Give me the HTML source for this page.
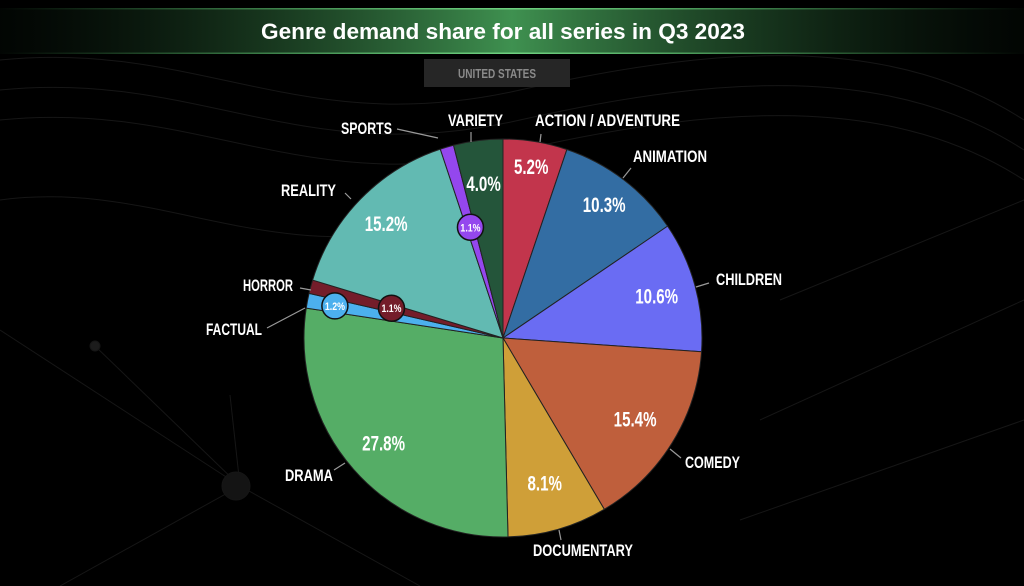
<!DOCTYPE html>
<html><head><meta charset="utf-8">
<style>
html,body{margin:0;padding:0;background:#000;width:1024px;height:586px;overflow:hidden}
svg{display:block}
.nm{font-family:"Liberation Sans",sans-serif;font-weight:bold;font-size:17px;fill:#fff}
.pc{font-family:"Liberation Sans",sans-serif;font-weight:bold;font-size:21px;fill:#fff}
.sp{font-family:"Liberation Sans",sans-serif;font-weight:bold;font-size:11px;fill:#fff}
</style></head><body>
<svg id="chart" width="1024" height="586" viewBox="0 0 1024 586">
<defs>
<linearGradient id="band" x1="0" x2="1" y1="0" y2="0">
<stop offset="0" stop-color="#0a1a0e" stop-opacity="0.2"/>
<stop offset="0.5" stop-color="#3f9150"/>
<stop offset="1" stop-color="#0a1a0e" stop-opacity="0.2"/>
</linearGradient>
<linearGradient id="bandline" x1="0" x2="1" y1="0" y2="0">
<stop offset="0" stop-color="#4caf60" stop-opacity="0"/>
<stop offset="0.5" stop-color="#6fd080"/>
<stop offset="1" stop-color="#4caf60" stop-opacity="0"/>
</linearGradient>
</defs>
<g stroke="#161616" fill="none" stroke-width="1">
<path d="M0 60 C200 40 300 140 520 90 S900 40 1024 120"/>
<path d="M0 90 C200 70 300 170 520 120 S900 70 1024 150"/>
<path d="M0 120 C200 100 300 200 520 150 S900 100 1024 180"/>
<path d="M0 200 C150 180 250 260 420 230"/>
<path d="M780 300 L1024 200 M760 420 L1024 300 M740 520 L1024 420"/>
<path d="M0 330 L240 486 L420 586 M95 346 L240 486 L60 586 M230 395 L240 486"/>
<circle cx="95" cy="346" r="5" fill="#1c1c1c"/>
<circle cx="236" cy="486" r="14" fill="#141414"/>
</g>
<g>
<rect x="0" y="8" width="1024" height="46" fill="url(#band)"/>
<rect x="0" y="8" width="1024" height="1.5" fill="url(#bandline)"/>
<rect x="0" y="52.5" width="1024" height="1.5" fill="url(#bandline)"/>
<text x="503" y="39" text-anchor="middle" font-family="Liberation Sans, sans-serif" font-weight="bold" font-size="22" textLength="484" lengthAdjust="spacingAndGlyphs" fill="#fff">Genre demand share for all series in Q3 2023</text>
</g>
<g>
<rect x="424" y="59" width="146" height="28" fill="#262626"/>
<text x="497" y="78" text-anchor="middle" font-family="Liberation Sans, sans-serif" font-weight="bold" font-size="13" textLength="78" lengthAdjust="spacingAndGlyphs" fill="#8a8a8a">UNITED STATES</text>
</g>
<g id="slices"></g>
<g id="pcts"></g>
<g stroke="#999" stroke-width="1.2" fill="none">
<path d="M540 142 L541 134"/><path d="M623 178 L631 168"/><path d="M696 287 L709 283"/>
<path d="M670 449 L681 458"/><path d="M559 530 L561 540"/><path d="M345 463 L334 470"/>
<path d="M305 308 L267 328"/><path d="M311 290 L300 288"/><path d="M351 199 L345 193"/>
<path d="M438 138 L397 129"/><path d="M471 142 L471 132"/>
</g>
<g>
<text class="nm" x="535" y="126" textLength="145" lengthAdjust="spacingAndGlyphs">ACTION / ADVENTURE</text>
<text class="nm" x="633" y="162" textLength="74" lengthAdjust="spacingAndGlyphs">ANIMATION</text>
<text class="nm" x="716" y="285" textLength="66" lengthAdjust="spacingAndGlyphs">CHILDREN</text>
<text class="nm" x="685" y="468" textLength="55" lengthAdjust="spacingAndGlyphs">COMEDY</text>
<text class="nm" x="533" y="556" textLength="100" lengthAdjust="spacingAndGlyphs">DOCUMENTARY</text>
<text class="nm" x="285" y="481" textLength="48" lengthAdjust="spacingAndGlyphs">DRAMA</text>
<text class="nm" x="206" y="335" textLength="56" lengthAdjust="spacingAndGlyphs">FACTUAL</text>
<text class="nm" x="243" y="291" textLength="50" lengthAdjust="spacingAndGlyphs">HORROR</text>
<text class="nm" x="281" y="196" textLength="55" lengthAdjust="spacingAndGlyphs">REALITY</text>
<text class="nm" x="341" y="134" textLength="51" lengthAdjust="spacingAndGlyphs">SPORTS</text>
<text class="nm" x="448" y="126" textLength="55" lengthAdjust="spacingAndGlyphs">VARIETY</text>
</g>
</svg>
<script>
const categories = ["Action / Adventure","Animation","Children","Comedy","Documentary","Drama","Factual","Horror","Reality","Sports","Variety"];
const shares = [5.2,10.3,10.6,15.4,8.1,27.8,1.2,1.1,15.2,1.1,4.0];
const colors = ["#c2354c","#336da3","#6a6cf3","#bf5f3c","#cf9f38","#55ad66","#4cb0ee","#741d2a","#62bab2","#9447ee","#24553a"];
const labelRadius = [0.87,0.84,0.8,0.78,0.76,0.8,0.86,0.58,0.82,0.58,0.78];
const cx=503, cy=338, r=199;
const NS="http://www.w3.org/2000/svg";
const total = shares.reduce((a,b)=>a+b,0);
function pt(frac, rad){const a=frac*2*Math.PI;return [cx+rad*Math.sin(a), cy-rad*Math.cos(a)];}
const gS=document.getElementById('slices'), gP=document.getElementById('pcts');
let acc=0;
shares.forEach((v,i)=>{
  const f0=acc/total, f1=(acc+v)/total; acc+=v;
  const [x0,y0]=pt(f0,r),[x1,y1]=pt(f1,r);
  const large=(f1-f0)>0.5?1:0;
  const p=document.createElementNS(NS,'path');
  p.setAttribute('d',`M${cx} ${cy} L${x0} ${y0} A${r} ${r} 0 ${large} 1 ${x1} ${y1} Z`);
  p.setAttribute('fill',colors[i]);
  p.setAttribute('stroke','#222');
  p.setAttribute('stroke-width','1');
  
  
  gS.appendChild(p);
  const [lx,ly]=pt((f0+f1)/2, r*labelRadius[i]);
  const txt=v.toFixed(1)+'%';
  if(v<2){
    const c=document.createElementNS(NS,'circle');
    c.setAttribute('cx',lx);c.setAttribute('cy',ly);c.setAttribute('r',13);
    c.setAttribute('fill',colors[i]);c.setAttribute('stroke','#111');c.setAttribute('stroke-width','1.5');
    
    
    gP.appendChild(c);
    const t=document.createElementNS(NS,'text');
    t.setAttribute('x',0);t.setAttribute('y',4);t.setAttribute('text-anchor','middle');t.setAttribute('class','sp');
    t.setAttribute('transform',`translate(${lx},${ly}) scale(0.8,1)`);
    t.textContent=txt;
    
    
    gP.appendChild(t);
  } else {
    const t=document.createElementNS(NS,'text');
    t.setAttribute('x',0);t.setAttribute('y',7);t.setAttribute('text-anchor','middle');t.setAttribute('class','pc');
    t.setAttribute('transform',`translate(${lx},${ly}) scale(0.72,1)`);
    t.textContent=txt;
    
    
    gP.appendChild(t);
  }
});
</script>
</body></html>
